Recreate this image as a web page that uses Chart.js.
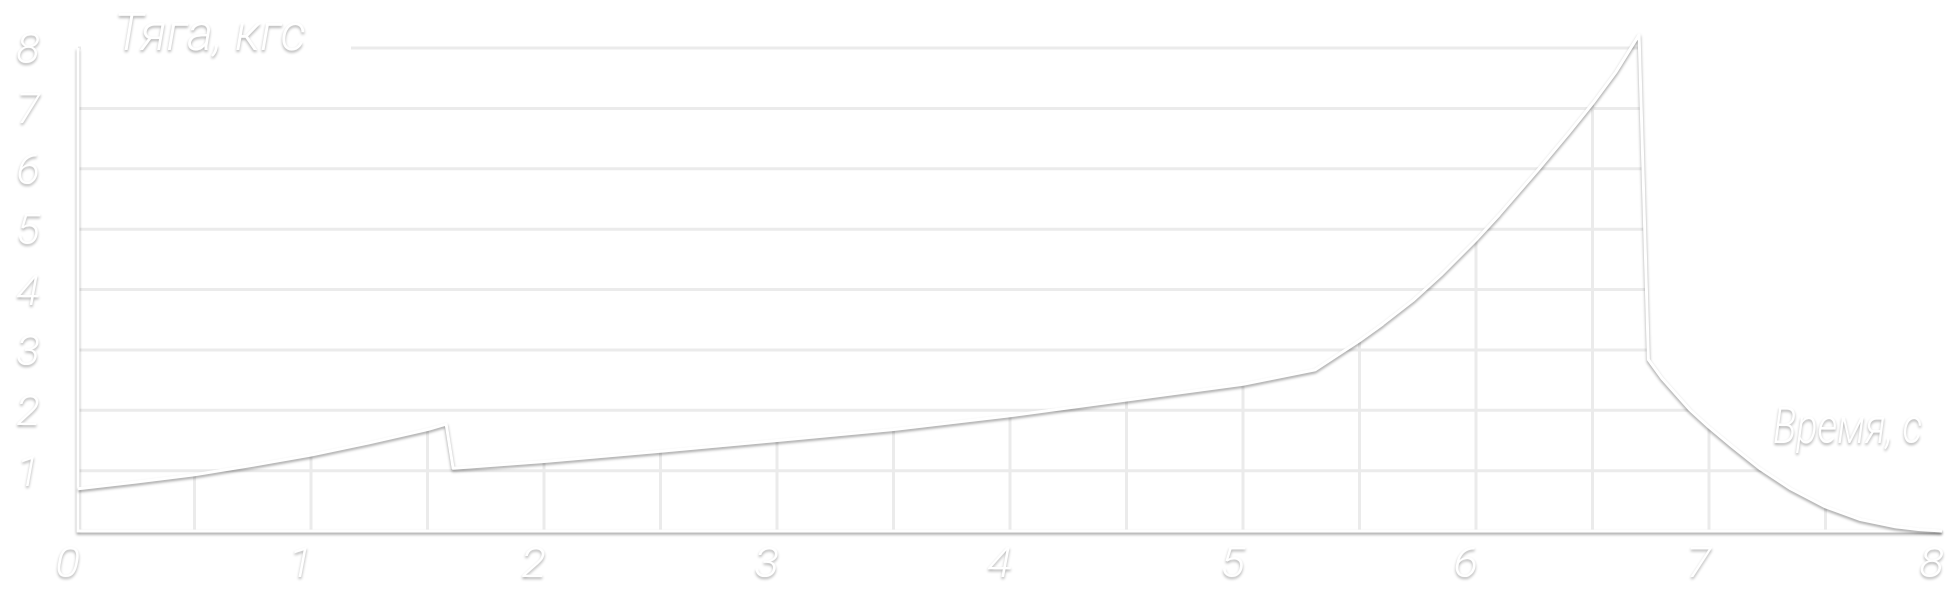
<!DOCTYPE html>
<html lang="ru">
<head>
  <meta charset="UTF-8" />
  <title>Тяга двигателя</title>
  <script src="https://cdn.jsdelivr.net/npm/chart.js@4"></script>
  <style>
    html, body { margin: 0; padding: 0; background: #fff; }
    #wrap { width: 1960px; height: 597px; position: relative; }
  </style>
</head>
<body>
  <div id="wrap"><canvas id="thrustChart"></canvas></div>

  <script>
    // curve: time, s / thrust, kgf
    const timeS     = [0, 0.25, 0.5, 0.75, 1.0, 1.25, 1.5, 1.58, 1.61, 2.0, 2.5, 3.0, 3.5, 4.0, 4.5, 5.0, 5.31, 5.4, 5.5, 5.6, 5.73, 5.85, 6.0, 6.1, 6.27, 6.4, 6.5, 6.6, 6.70, 6.74, 6.8, 6.92, 7.0, 7.1, 7.22, 7.35, 7.5, 7.65, 7.8, 7.9, 8.0];
    const thrustKgf = [0.70, 0.81, 0.93, 1.09, 1.26, 1.46, 1.68, 1.77, 1.04, 1.15, 1.32, 1.50, 1.68, 1.91, 2.17, 2.43, 2.67, 2.90, 3.15, 3.43, 3.82, 4.24, 4.82, 5.24, 6.00, 6.60, 7.08, 7.60, 8.22, 2.84, 2.52, 2.00, 1.72, 1.40, 1.03, 0.70, 0.40, 0.19, 0.07, 0.025, 0.0];

    const xTicks = [0, 1, 2, 3, 4, 5, 6, 7, 8];
    const yTicks = [1, 2, 3, 4, 5, 6, 7, 8];
    const xGrid  = [0.5, 1, 1.5, 2, 2.5, 3, 3.5, 4, 4.5, 5, 5.5, 6, 6.5, 7, 7.5];
    const yTitle = 'Тяга, кгс';
    const xTitle = 'Время, с';

    const FONT = 'Roboto, "Liberation Sans", sans-serif';

    // curve value at time t (linear between read points)
    function valueAt(t){
      for(let i=0;i<timeS.length-1;i++){
        if(t>=timeS[i] && t<=timeS[i+1]){
          const k=(t-timeS[i])/(timeS[i+1]-timeS[i]);
          return thrustKgf[i]+k*(thrustKgf[i+1]-thrustKgf[i]);
        }
      }
      return 0;
    }
    // rightmost time where the curve still reaches v
    function rightEdge(v){
      for(let i=timeS.length-2;i>=0;i--){
        const a=thrustKgf[i], b=thrustKgf[i+1];
        if((a-v)*(b-v)<=0 && a!==b){
          const k=(v-a)/(b-a);
          return timeS[i]+k*(timeS[i+1]-timeS[i]);
        }
      }
      return timeS[timeS.length-1];
    }

    function shadow(ctx, alpha){
      ctx.shadowColor   = alpha ? 'rgba(0,0,0,'+alpha+')' : 'transparent';
      ctx.shadowBlur    = alpha ? 3 : 0;
      ctx.shadowOffsetX = 0;
      ctx.shadowOffsetY = alpha ? 2 : 0;
    }

    // italic text, squeezed by sx towards the drafting-font look
    function label(ctx, text, x, y, size, align, sx){
      ctx.save();
      ctx.translate(x, y);
      ctx.scale(sx, 1);
      ctx.font = 'italic 300 ' + size + 'px ' + FONT;
      ctx.textAlign = align;
      ctx.textBaseline = 'alphabetic';
      ctx.fillText(text, 0, 0);
      ctx.restore();
    }

    const embossPlugin = {
      id:'emboss',
      beforeDatasetsDraw(chart){
        const {ctx, chartArea:a, scales:{x, y}} = chart;
        ctx.save();
        ctx.strokeStyle = '#ebebeb';
        ctx.lineWidth = 3;
        // horizontal grid: from the y axis to the curve's right side
        yTicks.forEach(v=>{
          const py = y.getPixelForValue(v);
          ctx.beginPath();
          ctx.moveTo(a.left, py);
          ctx.lineTo(x.getPixelForValue(rightEdge(v)), py);
          ctx.stroke();
        });
        // vertical grid: from the x axis up to the curve
        xGrid.forEach(t=>{
          const px = x.getPixelForValue(t);
          ctx.beginPath();
          ctx.moveTo(px, a.bottom);
          ctx.lineTo(px, y.getPixelForValue(valueAt(t)));
          ctx.stroke();
        });
        // cover for the title over the top gridline
        ctx.fillStyle = '#fff';
        ctx.fillRect(a.left + 3, y.getPixelForValue(8) - 6, 270, 12);

        // axes
        shadow(ctx, 0.38);
        ctx.strokeStyle = '#fff';
        ctx.lineWidth = 3;
        ctx.beginPath();
        ctx.moveTo(a.left, y.getPixelForValue(8));
        ctx.lineTo(a.left, a.bottom);
        ctx.lineTo(a.right, a.bottom);
        ctx.stroke();
        ctx.restore();

        ctx.save();
        shadow(ctx, 0.38);
      },
      afterDatasetsDraw(chart){
        chart.ctx.restore();
      },
      afterDraw(chart){
        const {ctx, scales:{x, y}} = chart;
        ctx.save();
        shadow(ctx, 0.32);
        ctx.fillStyle = '#fff';

        yTicks.forEach(v=> label(ctx, String(v), 40, y.getPixelForValue(v) + 15, 42, 'right', 1.05));
        xTicks.forEach(t=> label(ctx, String(t), x.getPixelForValue(t) + 2, 577, 42, 'right', 1.1));

        label(ctx, yTitle, 114, 50, 52, 'left', 0.97);
        label(ctx, xTitle, 1922, 443, 49, 'right', 0.8);
        ctx.restore();
      }
    };

    new Chart(document.getElementById('thrustChart'), {
      type:'line',
      data:{
        datasets:[{
          label:'Тяга',
          data: timeS.map((t,i)=>({x:t, y:thrustKgf[i]})),
          borderColor:'#fff',
          borderWidth:3,
          borderJoinStyle:'round',
          pointRadius:0,
          tension:0,
          fill:false,
          clip:false
        }]
      },
      options:{
        responsive:true,
        maintainAspectRatio:false,
        animation:false,
        layout:{padding:{left:78, right:18, top:48, bottom:66}},
        plugins:{legend:{display:false}, tooltip:{enabled:false}},
        scales:{
          x:{type:'linear', min:0, max:8, display:false},
          y:{type:'linear', min:0, max:8, display:false}
        }
      },
      plugins:[embossPlugin]
    });
  </script>
</body>
</html>
